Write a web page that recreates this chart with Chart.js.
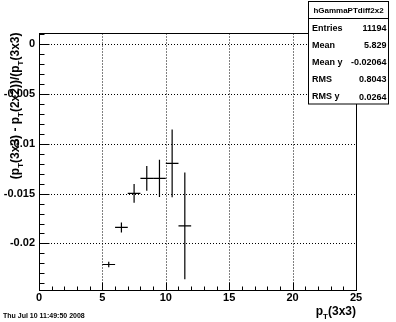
<!DOCTYPE html>
<html>
<head>
<meta charset="utf-8">
<script src="https://cdn.jsdelivr.net/npm/chart.js@4.4.0/dist/chart.umd.min.js"></script>
<style>
	html, body { margin: 0; padding: 0; background: #fff; }
	canvas { display: block; }
</style>
</head>
<body>
<canvas id="hist" width="396" height="322"></canvas>
<script>
// profile hGammaPTdiff2x2: bin centres, half widths, means and errors
var binCenters   = [ 5.5, 6.5, 7.5, 8.5, 9.5, 10.5, 11.5 ];
var binHalfWidth = [ 0.5, 0.5, 0.5, 0.5, 0.5, 0.5, 0.5 ];
var meanValues   = [ -0.02211, -0.01839, -0.01498, -0.01347, -0.01347, -0.01196, -0.01823 ];
var meanErrors   = [ 0.00028, 0.0005, 0.00094, 0.00124, 0.00188, 0.0034, 0.00536 ];

var xTickValues  = [ 0, 5, 10, 15, 20, 25 ];
var xTickLabels  = [ '0', '5', '10', '15', '20', '25' ];
var yTickValues  = [ 0, -0.005, -0.01, -0.015, -0.02 ];
var yTickLabels  = [ '0', '-0.005', '-0.01', '-0.015', '-0.02' ];

var statTitle    = 'hGammaPTdiff2x2';
var statLabels   = [ 'Entries', 'Mean', 'Mean y', 'RMS', 'RMS y' ];
var statValues   = [ '11194', '5.829', '-0.02064', '0.8043', '0.0264' ];
var dateText     = 'Thu Jul 10 11:49:50 2008';

( function () {
	'use strict';

	var FONT = '"Liberation Sans", Arial, Helvetica, sans-serif';

	function font( size, bold ) {
		return ( bold ? 'bold ' : '' ) + size + 'px ' + FONT;
	}

	// text with subscripts: parts = [ [ text, isSub ], ... ]
	function richWidth( ctx, parts, size ) {
		var w = 0;
		parts.forEach( function ( p ) {
			ctx.font = font( p[1] ? Math.round( size * 0.7 ) : size, true );
			w += ctx.measureText( p[0] ).width;
		} );
		return w;
	}

	function drawRich( ctx, parts, size, x, y ) {
		ctx.textAlign = 'left';
		ctx.textBaseline = 'alphabetic';
		parts.forEach( function ( p ) {
			var s = p[1] ? Math.round( size * 0.7 ) : size;
			ctx.font = font( s, true );
			ctx.fillText( p[0], x, y + ( p[1] ? size * 0.33 : 0 ) );
			x += ctx.measureText( p[0] ).width;
		} );
	}

	var yTitle = [ [ '(p', 0 ], [ 'T', 1 ], [ '(3x3) - p', 0 ], [ 'T', 1 ], [ '(2x2))/(p', 0 ], [ 'T', 1 ], [ '(3x3)', 0 ] ];
	var xTitle = [ [ 'p', 0 ], [ 'T', 1 ], [ '(3x3)', 0 ] ];

	var rootPlugin = {
		id: 'rootStyle',
		beforeDatasetsDraw: function ( chart ) {
			var ctx = chart.ctx, a = chart.chartArea;
			var xs = chart.scales.x, ys = chart.scales.y;
			ctx.save();
			ctx.strokeStyle = '#000';
			ctx.lineWidth = 1;
			ctx.setLineDash( [ 1, 2 ] );
			xTickValues.forEach( function ( v ) {
				var px = Math.round( xs.getPixelForValue( v ) ) + 0.5;
				ctx.beginPath();
				ctx.moveTo( px, a.bottom );
				ctx.lineTo( px, a.top );
				ctx.stroke();
			} );
			yTickValues.forEach( function ( v ) {
				var py = Math.round( ys.getPixelForValue( v ) ) + 0.5;
				ctx.beginPath();
				ctx.moveTo( a.left, py );
				ctx.lineTo( a.right, py );
				ctx.stroke();
			} );
			ctx.restore();
		},
		afterDatasetsDraw: function ( chart ) {
			var ctx = chart.ctx;
			var xs = chart.scales.x, ys = chart.scales.y;
			ctx.save();
			ctx.strokeStyle = '#000';
			ctx.lineWidth = 1.2;
			binCenters.forEach( function ( c, i ) {
				var py = ys.getPixelForValue( meanValues[i] );
				var px = xs.getPixelForValue( c );
				ctx.beginPath();
				ctx.moveTo( xs.getPixelForValue( c - binHalfWidth[i] ), py );
				ctx.lineTo( xs.getPixelForValue( c + binHalfWidth[i] ), py );
				ctx.moveTo( px, ys.getPixelForValue( meanValues[i] + meanErrors[i] ) );
				ctx.lineTo( px, ys.getPixelForValue( meanValues[i] - meanErrors[i] ) );
				ctx.stroke();
			} );
			ctx.restore();
		},
		afterDraw: function ( chart ) {
			var ctx = chart.ctx, a = chart.chartArea;
			var xs = chart.scales.x, ys = chart.scales.y;
			var L = Math.round( a.left ) + 0.5, R = Math.round( a.right ) + 0.5;
			var T = Math.round( a.top ) + 0.5, B = Math.round( a.bottom ) + 0.5;
			var v, p, major;

			ctx.save();
			ctx.strokeStyle = '#000';
			ctx.fillStyle = '#000';
			ctx.lineWidth = 1;

			// frame
			ctx.strokeRect( L, T, R - L, B - T );

			// x ticks: minor every 1, major every 5
			ctx.beginPath();
			for ( v = 0; v <= 25; v += 1 ) {
				p = Math.round( xs.getPixelForValue( v ) ) + 0.5;
				major = v % 5 === 0;
				ctx.moveTo( p, B );
				ctx.lineTo( p, B - ( major ? 8 : 4 ) );
			}
			// y ticks: minor every 0.001, major every 0.005
			for ( v = -24; v <= 1; v += 1 ) {
				p = Math.round( ys.getPixelForValue( v / 1000 ) ) + 0.5;
				major = v % 5 === 0;
				ctx.moveTo( L, p );
				ctx.lineTo( L + ( major ? 10 : 5 ), p );
			}
			ctx.stroke();

			// tick labels
			ctx.font = font( 11, true );
			ctx.textAlign = 'center';
			ctx.textBaseline = 'alphabetic';
			xTickValues.forEach( function ( t, i ) {
				ctx.fillText( xTickLabels[i], xs.getPixelForValue( t ), 301 );
			} );
			ctx.textAlign = 'right';
			ctx.textBaseline = 'middle';
			yTickValues.forEach( function ( t, i ) {
				ctx.fillText( yTickLabels[i], 35, ys.getPixelForValue( t ) );
			} );

			// axis titles
			var xw = richWidth( ctx, xTitle, 12 );
			drawRich( ctx, xTitle, 12, a.right - xw, 315 );

			ctx.save();
			ctx.translate( 19, a.top );
			ctx.rotate( -Math.PI / 2 );
			var yw = richWidth( ctx, yTitle, 12 );
			drawRich( ctx, yTitle, 12, -yw, 0 );
			ctx.restore();

			// stats box
			var bx = 308.5, by = 1.5, bw = 80, bh = 102.5;
			ctx.fillStyle = '#fff';
			ctx.fillRect( bx, by, bw, bh );
			ctx.strokeRect( bx, by, bw, bh );
			ctx.beginPath();
			ctx.moveTo( bx, 18.5 );
			ctx.lineTo( bx + bw, 18.5 );
			ctx.stroke();
			ctx.fillStyle = '#000';
			ctx.font = font( 8, true );
			ctx.textAlign = 'center';
			ctx.textBaseline = 'middle';
			ctx.fillText( statTitle, bx + bw / 2, 10.5 );
			ctx.font = font( 9, true );
			statLabels.forEach( function ( s, i ) {
				var ty = 28.5 + i * 17;
				ctx.textAlign = 'left';
				ctx.fillText( s, 312, ty );
				ctx.textAlign = 'right';
				ctx.fillText( statValues[i], 386.5, ty + ( i === 4 ? 1 : 0 ) );
			} );

			// date stamp
			ctx.font = font( 7, true );
			ctx.textAlign = 'left';
			ctx.textBaseline = 'alphabetic';
			ctx.fillText( dateText, 3, 317.5 );

			ctx.restore();
		},
	};

	var points = binCenters.map( function ( c, i ) {
		return { x: c, y: meanValues[i] };
	} );

	// eslint-disable-next-line no-new
	new Chart( document.getElementById( 'hist' ).getContext( '2d' ), {
		type: 'scatter',
		data: {
			datasets: [
				{
					label: statTitle,
					data: points,
					pointRadius: 0,
					showLine: false,
				},
			],
		},
		options: {
			responsive: false,
			animation: false,
			events: [],
			layout: { padding: { left: 39, right: 40, top: 32.5, bottom: 32.5 } },
			plugins: { legend: { display: false }, tooltip: { enabled: false } },
			scales: {
				x: { type: 'linear', min: 0, max: 25, display: false },
				y: { type: 'linear', min: -0.02462, max: 0.00117, display: false },
			},
		},
		plugins: [ rootPlugin ],
	} );
} )();
</script>
</body>
</html>
